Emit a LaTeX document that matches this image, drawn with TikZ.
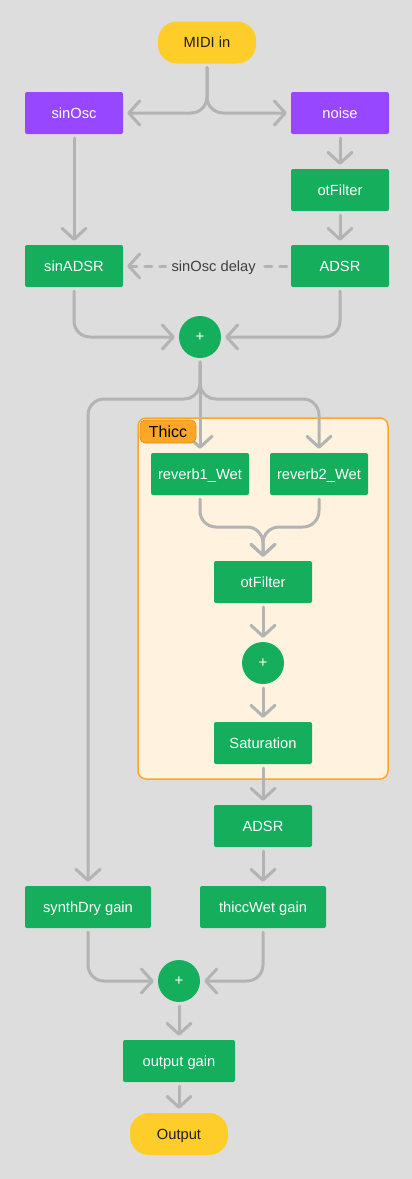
\documentclass[tikz,border=0pt]{standalone}
\usepackage{fontspec}
\setmainfont{Liberation Sans}
\usetikzlibrary{arrows.meta}
\definecolor{fgreen}{HTML}{14AE5C}
\definecolor{fpurple}{HTML}{9747FF}
\definecolor{fyellow}{HTML}{FFCD29}
\definecolor{forange}{HTML}{FFA629}
\definecolor{bgc}{HTML}{DDDDDD}
\definecolor{lgray}{HTML}{B3B3B3}
\definecolor{cream}{HTML}{FFF2DE}
\definecolor{dtext}{HTML}{1E1E1E}
\newcommand{\fsz}{\fontsize{14.7pt}{17pt}\selectfont}
\tikzset{
  gbox/.style={rectangle, rounded corners=2pt, fill=fgreen, text=white, minimum width=98pt, minimum height=42pt, inner sep=0pt, font=\fsz, text height=10.5pt, text depth=0pt},
  pbox/.style={gbox, fill=fpurple},
  term/.style={gbox, fill=fyellow, text=dtext, rounded corners=19pt},
  sumnode/.style={circle, fill=fgreen, text=white, minimum size=42pt, inner sep=0pt, font=\fontsize{15pt}{17pt}\selectfont},
  conn/.style={draw=lgray, line width=3pt, line cap=round, line join=round, rounded corners=16pt, shorten <=4pt, shorten >=4pt, -{Straight Barb[length=11pt,width=24pt,round]}},
}
\begin{document}
\begin{tikzpicture}[x=1pt,y=-1pt]
\path[fill=bgc] (0,0) rectangle (412,1179);
% Thicc group
\path[fill=cream, draw=forange, line width=1.5pt, rounded corners=8pt] (138,418) rectangle (388,779);
% nodes
\node[term] (midi) at (207,42.5) {MIDI in};
\node[pbox] (sinosc) at (74,113) {sinOsc};
\node[pbox] (noise) at (340,113) {noise};
\node[gbox] (otf1) at (340,190) {otFilter};
\node[gbox] (sinadsr) at (74,266) {sinADSR};
\node[gbox] (adsr1) at (340,266) {ADSR};
\node[sumnode] (plus1) at (200,337) {+};
\node[gbox] (rev1) at (200,474) {reverb1\_Wet};
\node[gbox] (rev2) at (319,474) {reverb2\_Wet};
\node[gbox] (otf2) at (263,582) {otFilter};
\node[sumnode] (plus2) at (263,663) {+};
\node[gbox] (sat) at (263,743) {Saturation};
\node[gbox] (adsr2) at (263,826) {ADSR};
\node[gbox, minimum width=126pt] (sdry) at (88,907) {synthDry gain};
\node[gbox, minimum width=126pt] (twet) at (263,907) {thiccWet gain};
\node[sumnode] (plus3) at (179,981) {+};
\node[gbox, minimum width=112pt] (ogain) at (179,1061) {output gain};
\node[term] (out) at (179,1134) {Output};
% connectors
\draw[conn] (midi.south) |- (sinosc.east);
\draw[conn] (midi.south) |- (noise.west);
\draw[conn] (sinosc) -- (sinadsr);
\draw[conn] (noise) -- (otf1);
\draw[conn] (otf1) -- (adsr1);
\draw[conn, dash pattern=on 7pt off 8pt] (adsr1.west) -- node[pos=0.46, fill=bgc, text=dtext!85, inner xsep=5pt, inner ysep=3pt, font=\fsz, text height=10.5pt, text depth=0pt] (dlabel) {sinOsc delay} (sinadsr.east);
\draw[conn] (sinadsr.south) |- (plus1.west);
\draw[conn] (adsr1.south) |- (plus1.east);
\coordinate (sp) at (200,399);
\draw[conn] (plus1.south) -- (sp) -| (sdry.north);
\draw[conn] (plus1.south) -- (sp) -| (rev2.north);
\draw[conn] (plus1) -- (rev1);
\coordinate (mg) at (263,527);
\draw[conn] (rev1.south) |- (mg) -- (otf2.north);
\draw[conn] (rev2.south) |- (mg) -- (otf2.north);
\draw[conn] (otf2) -- (plus2);
\draw[conn] (plus2) -- (sat);
\draw[conn] (sat) -- (adsr2);
\draw[conn] (adsr2) -- (twet);
\draw[conn] (sdry.south) |- (plus3.west);
\draw[conn] (twet.south) |- (plus3.east);
\draw[conn] (plus3) -- (ogain);
\draw[conn] (ogain) -- (out);
% group label
\node[rectangle, rounded corners=5pt, fill=forange, draw=forange!85!black, line width=0.6pt, minimum width=56pt, minimum height=23pt, inner sep=0pt, text=black, font=\fontsize{16pt}{18pt}\selectfont, text height=11.5pt, text depth=0pt] (thicc) at (168,431.5) {Thicc};
\end{tikzpicture}
\end{document}
